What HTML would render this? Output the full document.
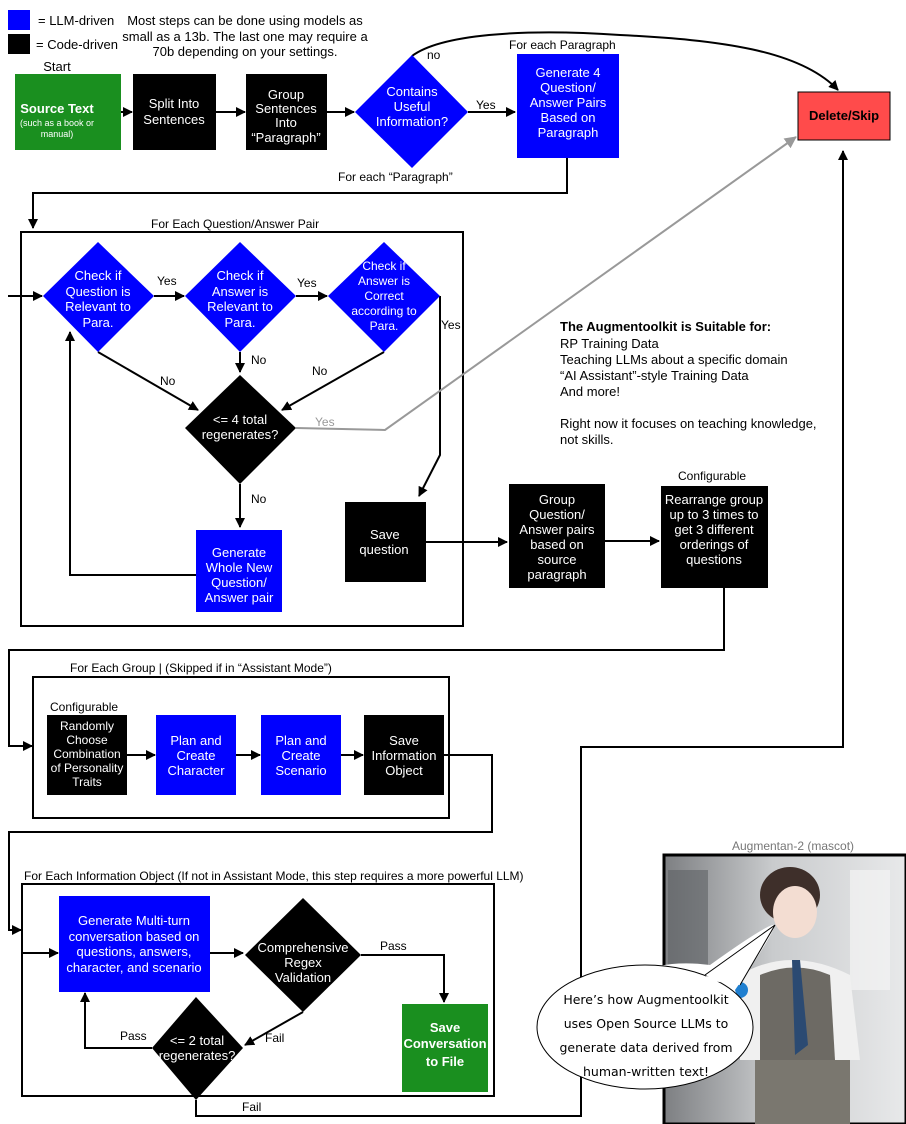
<!DOCTYPE html>
<html><head><meta charset="utf-8"><style>
html,body{margin:0;padding:0;background:#fff;}
svg{display:block;font-family:"Liberation Sans",Arial,sans-serif;}
</style></head><body>
<svg width="906" height="1124" viewBox="0 0 906 1124" xmlns="http://www.w3.org/2000/svg">
<defs>
<marker id="a" markerWidth="10" markerHeight="10" refX="9" refY="5" orient="auto" markerUnits="userSpaceOnUse"><path d="M0,0 L10,5 L0,10 z" fill="#000"/></marker>
<marker id="g" markerWidth="12" markerHeight="12" refX="11" refY="6" orient="auto" markerUnits="userSpaceOnUse"><path d="M0,0 L12,6 L0,12 z" fill="#999"/></marker>
<linearGradient id="bg" x1="0" y1="0" x2="1" y2="0"><stop offset="0" stop-color="#7d7f82"/><stop offset="0.45" stop-color="#c9cbcd"/><stop offset="1" stop-color="#e8e9ea"/></linearGradient>
</defs>
<g font-size="13" fill="#000">
<!-- legend -->
<rect x="8" y="10" width="22" height="20" fill="#0000ff"/>
<text x="38" y="25">= LLM-driven</text>
<rect x="8" y="34" width="22" height="20" fill="#000"/>
<text x="36" y="49">= Code-driven</text>
<g text-anchor="middle">
<text x="245" y="25">Most steps can be done using models as</text>
<text x="245" y="41">small as a 13b. The last one may require a</text>
<text x="245" y="56">70b depending on your settings.</text>
<text x="57" y="71">Start</text>
</g>
</g>
<g fill="none" stroke="#000" stroke-width="2">
<!-- top row arrows -->
<path d="M121,112 H132" marker-end="url(#a)"/>
<path d="M216,112 H245" marker-end="url(#a)"/>
<path d="M327,112 H354" marker-end="url(#a)"/>
<path d="M468,112 H515" marker-end="url(#a)"/>
<path d="M412,56 C440,35 520,28 620,35 C720,40 800,50 838,90" marker-end="url(#a)"/>
<path d="M567,158 V193 H33 V228" marker-end="url(#a)"/>
<!-- box 1 -->
<rect x="21" y="232" width="442" height="394"/>
<path d="M8,296 H42" marker-end="url(#a)"/>
<path d="M154,296 H184" marker-end="url(#a)"/>
<path d="M296,296 H327" marker-end="url(#a)"/>
<path d="M240,352 V372" marker-end="url(#a)"/>
<path d="M98,352 L198,410" marker-end="url(#a)"/>
<path d="M384,352 L282,410" marker-end="url(#a)"/>
<path d="M440,296 V455 L419,496" marker-end="url(#a)"/>
<path d="M240,484 V527" marker-end="url(#a)"/>
<path d="M196,575 H70 V332" marker-end="url(#a)"/>
<path d="M426,542 H507" marker-end="url(#a)"/>
<path d="M605,541 H659" marker-end="url(#a)"/>
<path d="M724,588 V650 H9 V746 H32" marker-end="url(#a)"/>
<!-- box 2 -->
<rect x="33" y="677" width="416" height="141"/>
<path d="M127,755 H155" marker-end="url(#a)"/>
<path d="M236,755 H260" marker-end="url(#a)"/>
<path d="M341,755 H363" marker-end="url(#a)"/>
<path d="M444,755 H492 V832 H9 V930 H21" marker-end="url(#a)"/>
<!-- box 3 -->
<rect x="22" y="884" width="472" height="212"/>
<path d="M22,953 H58" marker-end="url(#a)"/>
<path d="M210,953 H243" marker-end="url(#a)"/>
<path d="M361,955 H444 V1002" marker-end="url(#a)"/>
<path d="M303,1012 L245,1045" marker-end="url(#a)"/>
<path d="M152,1048 H85 V993" marker-end="url(#a)"/>
<path d="M196,1100 V1116 H581 V747 H843 V151" marker-end="url(#a)"/>
</g>
<path d="M296,428 L385,430 L796,137" fill="none" stroke="#999" stroke-width="2" marker-end="url(#g)"/>
<!-- nodes -->
<rect x="15" y="74" width="106" height="76" fill="#1a8f1f"/>
<rect x="133" y="74" width="83" height="76" fill="#000"/>
<rect x="246" y="74" width="81" height="76" fill="#000"/>
<polygon points="412,55 468,112 412,168 355,112" fill="#0000ff"/>
<rect x="517" y="54" width="102" height="104" fill="#0000ff"/>
<rect x="798" y="92" width="92" height="48" fill="#ff4b4b" stroke="#000" stroke-width="1"/>
<polygon points="98,242 154,296 98,352 43,296" fill="#0000ff"/>
<polygon points="240,242 296,296 240,352 185,296" fill="#0000ff"/>
<polygon points="384,242 440,296 384,352 328,296" fill="#0000ff"/>
<polygon points="240,375 296,428 240,484 185,428" fill="#000"/>
<rect x="196" y="530" width="86" height="82" fill="#0000ff"/>
<rect x="345" y="502" width="81" height="80" fill="#000"/>
<rect x="509" y="484" width="96" height="104" fill="#000"/>
<rect x="661" y="486" width="107" height="102" fill="#000"/>
<rect x="47" y="715" width="80" height="80" fill="#000"/>
<rect x="156" y="715" width="80" height="80" fill="#0000ff"/>
<rect x="261" y="715" width="80" height="80" fill="#0000ff"/>
<rect x="364" y="715" width="80" height="80" fill="#000"/>
<rect x="59" y="896" width="151" height="96" fill="#0000ff"/>
<polygon points="303,898 361,955 303,1012 245,955" fill="#000"/>
<rect x="402" y="1004" width="86" height="88" fill="#1a8f1f"/>
<polygon points="196,997 243,1048 196,1100 152,1048" fill="#000"/>
<!-- node text -->
<g fill="#fff" font-size="13" text-anchor="middle">
<text x="57" y="113" font-weight="bold">Source Text</text>
<text x="57" y="126" font-size="9">(such as a book or</text>
<text x="57" y="137" font-size="9">manual)</text>
<text x="174" y="108">Split Into</text><text x="174" y="124">Sentences</text>
<text x="286" y="99">Group</text><text x="286" y="113">Sentences</text><text x="286" y="127">Into</text><text x="286" y="142">“Paragraph”</text>
<text x="412" y="96">Contains</text><text x="412" y="111">Useful</text><text x="412" y="126">Information?</text>
<text x="568" y="77">Generate 4</text><text x="568" y="92">Question/</text><text x="568" y="107">Answer Pairs</text><text x="568" y="122">Based on</text><text x="568" y="137">Paragraph</text>
<text x="844" y="120" fill="#000" font-weight="bold">Delete/Skip</text>
<text x="98" y="280">Check if</text><text x="98" y="296">Question is</text><text x="98" y="311">Relevant to</text><text x="98" y="327">Para.</text>
<text x="240" y="280">Check if</text><text x="240" y="296">Answer is</text><text x="240" y="311">Relevant to</text><text x="240" y="327">Para.</text>
<g font-size="12"><text x="384" y="270">Check if</text><text x="384" y="285">Answer is</text><text x="384" y="300">Correct</text><text x="384" y="315">according to</text><text x="384" y="330">Para.</text></g>
<text x="240" y="424">&lt;= 4 total</text><text x="240" y="439">regenerates?</text>
<text x="239" y="557">Generate</text><text x="239" y="572">Whole New</text><text x="239" y="587">Question/</text><text x="239" y="602">Answer pair</text>
<text x="370" y="539" text-anchor="start" x-note="">Save</text>
<text x="384" y="554">question</text>
<text x="557" y="504">Group</text><text x="557" y="519">Question/</text><text x="557" y="534">Answer pairs</text><text x="557" y="549">based on</text><text x="557" y="564">source</text><text x="557" y="579">paragraph</text>
<text x="714" y="504">Rearrange group</text><text x="714" y="519">up to 3 times to</text><text x="714" y="534">get 3 different</text><text x="714" y="549">orderings of</text><text x="714" y="564">questions</text>
<g font-size="12"><text x="87" y="730">Randomly</text><text x="87" y="744">Choose</text><text x="87" y="758">Combination</text><text x="87" y="772">of Personality</text><text x="87" y="786">Traits</text></g>
<text x="196" y="745">Plan and</text><text x="196" y="760">Create</text><text x="196" y="775">Character</text>
<text x="301" y="745">Plan and</text><text x="301" y="760">Create</text><text x="301" y="775">Scenario</text>
<text x="404" y="745">Save</text><text x="404" y="760">Information</text><text x="404" y="775">Object</text>
<text x="134" y="925">Generate Multi-turn</text><text x="134" y="941">conversation based on</text><text x="134" y="956">questions, answers,</text><text x="134" y="972">character, and scenario</text>
<text x="303" y="952">Comprehensive</text><text x="303" y="967">Regex</text><text x="303" y="982">Validation</text>
<g font-weight="bold"><text x="445" y="1032">Save</text><text x="445" y="1048">Conversation</text><text x="445" y="1066">to File</text></g>
<text x="197" y="1045">&lt;= 2 total</text><text x="197" y="1060">regenerates?</text>
</g>
<!-- labels -->
<g font-size="12" fill="#000">
<text x="427" y="59">no</text>
<text x="476" y="109">Yes</text>
<text x="509" y="49">For each Paragraph</text>
<text x="338" y="181">For each “Paragraph”</text>
<text x="151" y="228">For Each Question/Answer Pair</text>
<text x="157" y="285">Yes</text>
<text x="297" y="287">Yes</text>
<text x="441" y="329">Yes</text>
<text x="251" y="364">No</text>
<text x="160" y="385">No</text>
<text x="312" y="375">No</text>
<text x="315" y="426" fill="#999">Yes</text>
<text x="251" y="503">No</text>
<text x="678" y="480">Configurable</text>
<text x="70" y="672">For Each Group | (Skipped if in “Assistant Mode”)</text>
<text x="50" y="711">Configurable</text>
<text x="24" y="880">For Each Information Object (If not in Assistant Mode, this step requires a more powerful LLM)</text>
<text x="380" y="950">Pass</text>
<text x="265" y="1042">Fail</text>
<text x="120" y="1040">Pass</text>
<text x="242" y="1111">Fail</text>
</g>
<g font-size="13" fill="#000">
<text x="560" y="331" font-weight="bold">The Augmentoolkit is Suitable for:</text>
<text x="560" y="348">RP Training Data</text>
<text x="560" y="364">Teaching LLMs about a specific domain</text>
<text x="560" y="380">“AI Assistant”-style Training Data</text>
<text x="560" y="396">And more!</text>
<text x="560" y="428">Right now it focuses on teaching knowledge,</text>
<text x="560" y="444">not skills.</text>
</g>
<!-- mascot -->
<text x="793" y="850" font-size="12" fill="#777" text-anchor="middle">Augmentan-2 (mascot)</text>
<rect x="664" y="855" width="242" height="269" fill="url(#bg)" stroke="#000" stroke-width="3"/>
<rect x="668" y="870" width="40" height="150" fill="#5e6064" opacity="0.6"/>
<rect x="850" y="870" width="40" height="120" fill="#f4f4f4" opacity="0.7"/>
<ellipse cx="790" cy="895" rx="30" ry="28" fill="#3e2f2a"/>
<ellipse cx="795" cy="912" rx="22" ry="26" fill="#f3ddd2"/>
<path d="M740,975 Q790,945 850,975 L860,1060 L740,1060 Z" fill="#f0f0f0"/>
<path d="M760,975 Q795,960 830,975 L835,1060 L760,1060 Z" fill="#6d6a64"/>
<path d="M792,960 L800,960 L808,1045 L795,1055 Z" fill="#2b4a72"/>
<rect x="755" y="1060" width="95" height="64" fill="#7a776f"/>
<circle cx="740" cy="990" r="8" fill="#1f7fd0"/>
<circle cx="718" cy="1050" r="7" fill="#1f7fd0"/>
<path d="M598,1005 Q635,955 710,965 Q770,922 775,925 Q770,940 735,990 Q760,1060 660,1085 Q560,1095 540,1030 Q545,1000 598,1005 Z" fill="#fff"/>
<ellipse cx="645" cy="1027" rx="108" ry="62" fill="#fff" stroke="#000" stroke-width="1"/>
<path d="M705,975 L775,925 L740,985" fill="#fff" stroke="#000" stroke-width="1"/>
<path d="M706,978 L740,983" stroke="#fff" stroke-width="4"/>
<g font-size="12.5" text-anchor="middle" fill="#000" font-family="'DejaVu Sans',sans-serif">
<text x="646" y="1004">Here’s how Augmentoolkit</text>
<text x="646" y="1028">uses Open Source LLMs to</text>
<text x="646" y="1052">generate data derived from</text>
<text x="646" y="1076">human-written text!</text>
</g>
</svg>
</body></html>
